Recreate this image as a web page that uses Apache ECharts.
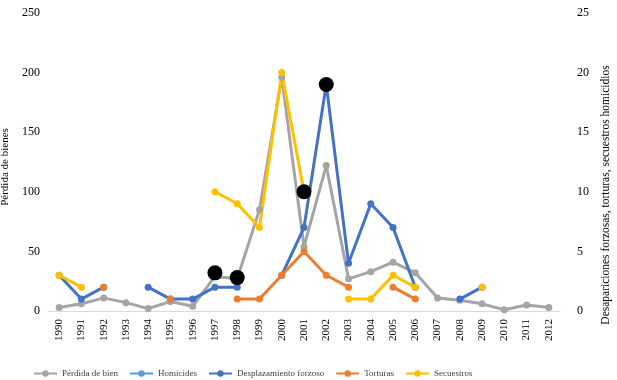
<!DOCTYPE html>
<html lang="es" style="height: 100%">
<head>
  <meta charset="utf-8">
</head>
<body style="height: 100%; margin: 0; background: #fff">
  <div id="container" style="width: 617px; height: 380px"></div>

  <script type="text/javascript" src="https://cdn.jsdelivr.net/npm/echarts@6/dist/echarts.min.js"></script>

  <script type="text/javascript">
    var dom = document.getElementById('container');
    var myChart = echarts.init(dom, null, { renderer: 'canvas' });

    // años
    var years = ['1990', '1991', '1992', '1993', '1994', '1995', '1996', '1997', '1998', '1999', '2000',
      '2001', '2002', '2003', '2004', '2005', '2006', '2007', '2008', '2009', '2010', '2011', '2012'];

    // eje izquierdo
    var perdidaBien = [3, 6, 11, 7, 2, 8, 4, 29, 27, 85, 196, 54, 122, 27, 33, 41, 32, 11, 9, 6, 1, 5, 3];

    // eje derecho
    var homicides = [null, null, null, null, null, null, null, 3.2, 2.8, null, null, 10, 19,
      null, null, null, null, null, null, null, null, null, null];
    var desplazamiento = [3, 1, 2, null, 2, 1, 1, 2, 2, null, 3, 7, 19, 4, 9, 7, 2, null, 1, 2, null, null, null];
    var torturas = [null, null, 2, null, null, 1, null, null, 1, 1, 3, 5, 3, 2, null, 2, 1, null, null, null, null, null, null];
    var secuestros = [3, 2, null, null, null, null, null, 10, 9, 7, 20, 10, null, 1, 1, 3, 2, null, null, 2, null, null, null];

    var font = '"Liberation Serif", "Times New Roman", serif';

    function lineSeries(name, data, color, axis) {
      return {
        name: name,
        type: 'line',
        yAxisIndex: axis,
        data: data,
        symbol: 'circle',
        symbolSize: 7,
        connectNulls: false,
        itemStyle: { color: color },
        lineStyle: { color: color, width: 3 }
      };
    }

    var option = {
      animation: false,
      textStyle: { fontFamily: font },
      grid: { left: 48, right: 57, top: 13, bottom: 69, containLabel: false, outerBoundsMode: 'none' },
      legend: {
        left: 28,
        top: 364,
        itemWidth: 23,
        itemHeight: 8,
        itemGap: 11,
        textStyle: { fontFamily: font, fontSize: 9, color: '#404040' },
        data: [
          'Pérdida de bien',
          { name: 'Homicides', itemStyle: { color: '#5B9BD5' }, lineStyle: { color: '#5B9BD5', opacity: 1, width: 2 } },
          'Desplazamiento forzoso',
          'Torturas',
          'Secuestros'
        ]
      },
      xAxis: {
        type: 'category',
        data: years,
        boundaryGap: true,
        axisLine: { lineStyle: { color: '#D9D9D9', width: 1 } },
        axisTick: { show: false },
        axisLabel: { rotate: 90, margin: 8, fontFamily: font, fontSize: 11, color: '#000', interval: 0 }
      },
      yAxis: [
        {
          type: 'value',
          min: 0, max: 250, interval: 50,
          name: 'Pérdida de bienes',
          nameLocation: 'middle',
          nameGap: 36,
          nameTextStyle: { fontFamily: font, fontSize: 11, color: '#000', padding: [0, 10, 0, 0] },
          axisLine: { show: false },
          axisTick: { show: false },
          splitLine: { show: false },
          axisLabel: { margin: 8, fontFamily: font, fontSize: 12, color: '#000' }
        },
        {
          type: 'value',
          min: 0, max: 25, interval: 5,
          position: 'right',
          name: 'Desapariciones forzosas, torturas, secuestros homicidios',
          nameLocation: 'middle',
          nameRotate: 90,
          nameGap: 39,
          nameTextStyle: { fontFamily: font, fontSize: 11.5, color: '#000', padding: [0, 66, 0, 0] },
          axisLine: { show: false },
          axisTick: { show: false },
          splitLine: { show: false },
          axisLabel: { margin: 17, fontFamily: font, fontSize: 12, color: '#000' }
        }
      ],
      series: [
        lineSeries('Pérdida de bien', perdidaBien, '#A5A5A5', 0),
        {
          name: 'Homicides',
          type: 'line',
          yAxisIndex: 1,
          data: homicides,
          z: 10,
          symbol: 'circle',
          symbolSize: 15,
          itemStyle: { color: '#000' },
          lineStyle: { color: '#5B9BD5', width: 0, opacity: 0 }
        },
        lineSeries('Desplazamiento forzoso', desplazamiento, '#4472C4', 1),
        lineSeries('Torturas', torturas, '#ED7D31', 1),
        lineSeries('Secuestros', secuestros, '#FFC000', 1)
      ]
    };

    myChart.setOption(option);
    window.addEventListener('resize', myChart.resize);
  </script>
</body>
</html>
